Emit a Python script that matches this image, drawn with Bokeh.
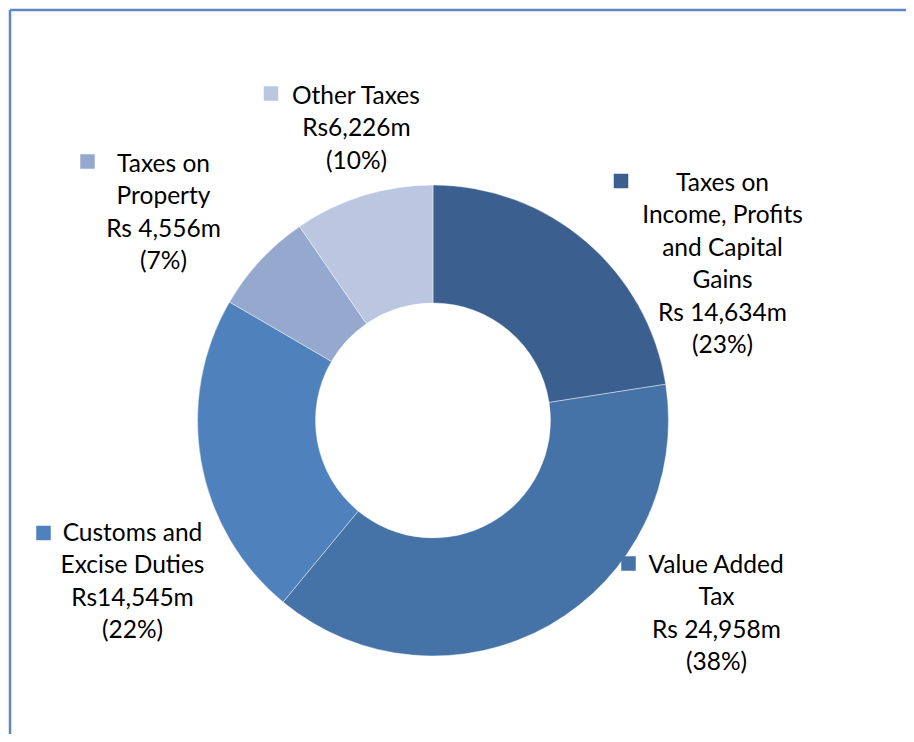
import math
from bokeh.plotting import figure
from bokeh.models import Range1d, ColumnDataSource
from bokeh.core.properties import value
from bokeh.embed import file_html
from bokeh.resources import INLINE

# ---- data ----
categories = ["Taxes on Income, Profits and Capital Gains", "Value Added Tax",
              "Customs and Excise Duties", "Taxes on Property", "Other Taxes"]
values = [14634, 24958, 14545, 4556, 6226]
name_lines = [["Taxes on", "Income, Profits", "and Capital", "Gains"],
              ["Value Added", "Tax"],
              ["Customs and", "Excise Duties"],
              ["Taxes on", "Property"],
              ["Other Taxes"]]
amount_labels = ["Rs 14,634m", "Rs 24,958m", "Rs14,545m", "Rs 4,556m", "Rs6,226m"]
colors = ["#3B5F8E", "#4573A8", "#4F81BD", "#95A9CF", "#BBC7E0"]

# ---- layout (picture pixel coords -> data coords) ----
W, H = 906, 734
def dx(px):
    return px
def dy(py):
    return H - py

cx, cy = dx(432.5), dy(420)
r_out, r_in = 235.5, 117.5
# label block: (text center x, first row center y, square center x, square center y)
label_pos = [(722, 180.5, 620.5, 180.5),
             (716, 562.5, 628, 563),
             (132, 530.5, 43, 532.5),
             (163, 161.5, 87, 161),
             (356, 93.5, 270.5, 93)]
line_h = 32.5
font = "Lato"
fsize = "24.5px"

p = figure(width=W, height=H, output_backend="svg", toolbar_location=None,
           x_range=Range1d(0, W), y_range=Range1d(0, H), min_border=0)
p.axis.visible = False
p.grid.visible = False
p.outline_line_color = None
p.background_fill_color = "white"
p.border_fill_color = "white"

total = sum(values)
starts, ends = [], []
cum = 0.0
for v in values:
    starts.append(math.pi / 2 - 2 * math.pi * cum / total)
    cum += v
    ends.append(math.pi / 2 - 2 * math.pi * cum / total)

src = ColumnDataSource(dict(start=starts, end=ends, color=colors,
                            x=[cx] * len(values), y=[cy] * len(values)))
p.annular_wedge(x="x", y="y", inner_radius=r_in, outer_radius=r_out,
                start_angle="start", end_angle="end", direction="clock",
                fill_color="color", line_color="white", line_width=0.6,
                line_alpha=0.7, source=src)

# border (top and left edges of the chart frame)
p.line(x=[dx(9.5), dx(9.5)], y=[0, dy(9.5)], line_color="#5B87C5", line_width=2.5)
p.line(x=[dx(9.5), W], y=[dy(9.5), dy(9.5)], line_color="#5B87C5", line_width=2.5)

tx, ty, tt = [], [], []
sqx, sqy, sqc = [], [], []
for i, v in enumerate(values):
    pct = round(v / total * 100)
    lines = name_lines[i] + [amount_labels[i], f"({pct}%)"]
    lx, ly, sx, sy = label_pos[i]
    for k, t in enumerate(lines):
        tx.append(dx(lx))
        ty.append(dy(ly + k * line_h))
        tt.append(t)
    sqx.append(dx(sx))
    sqy.append(dy(sy))
    sqc.append(colors[i])

p.rect(x=sqx, y=sqy, width=14.5, height=14.5, fill_color=sqc, line_color=None)
p.text(x=tx, y=ty, text=tt, text_align="center", text_baseline="middle",
       text_font=value(font), text_font_size=fsize, text_color="#000000")

open("out.html", "w").write(file_html(p, INLINE))
